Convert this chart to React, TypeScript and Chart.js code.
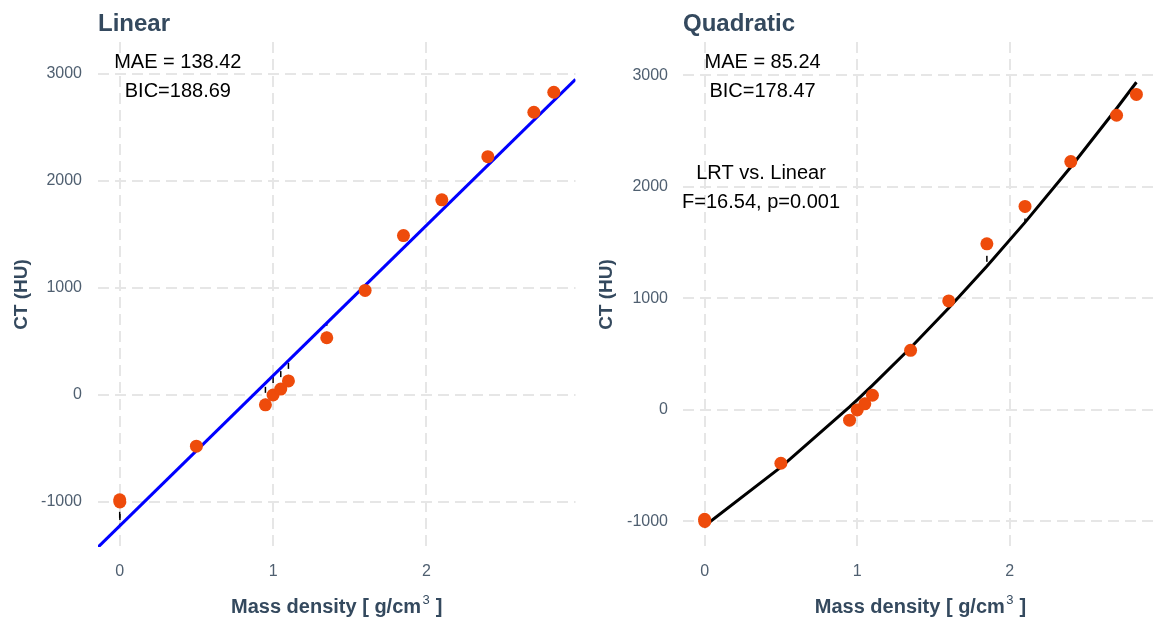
import React, { useEffect, useRef } from "react";
import { Chart, registerables } from "chart.js";

Chart.register(...registerables);

// Measured phantom inserts: mass density (g/cm³) and CT number (HU)
const density = [0, 0.0012, 0.5, 0.95, 1.0, 1.05, 1.1, 1.35, 1.6, 1.85, 2.1, 2.4, 2.7, 2.83];
const ctNumber = [-980, -1000, -478, -92, 0, 55, 132, 535, 978, 1490, 1825, 2228, 2643, 2830];

const xTicks = [0, 1, 2];
const yTicks = [-1000, 0, 1000, 2000, 3000];

const X_MIN = -0.1415;
const X_MAX = 2.9715;

const linearNotes = ["MAE = 138.42", "BIC=188.69"];
const quadraticNotes = ["MAE = 85.24", "BIC=178.47"];
const lrtNotes = ["LRT vs. Linear", "F=16.54, p=0.001"];

const FONT = '"Liberation Sans", Arial, Helvetica, sans-serif';
const TITLE_COLOR = "#34495e";
const TICK_COLOR = "#4f5f70";
const GRID_COLOR = "#e6e6e6";
const POINT_COLOR = "#ee4b0b";

// Ordinary least-squares polynomial fit, returns coefficients c0..cN
function polyFit(xs: number[], ys: number[], degree: number): number[] {
  const n = degree + 1;
  const A: number[][] = Array.from({ length: n }, () => new Array(n).fill(0));
  const b: number[] = new Array(n).fill(0);
  xs.forEach((x, k) => {
    for (let i = 0; i < n; i++) {
      b[i] += ys[k] * Math.pow(x, i);
      for (let j = 0; j < n; j++) A[i][j] += Math.pow(x, i + j);
    }
  });
  for (let c = 0; c < n; c++) {
    let p = c;
    for (let r = c + 1; r < n; r++) if (Math.abs(A[r][c]) > Math.abs(A[p][c])) p = r;
    [A[c], A[p]] = [A[p], A[c]];
    [b[c], b[p]] = [b[p], b[c]];
    for (let r = c + 1; r < n; r++) {
      const f = A[r][c] / A[c][c];
      for (let j = c; j < n; j++) A[r][j] -= f * A[c][j];
      b[r] -= f * b[c];
    }
  }
  const coef = new Array(n).fill(0);
  for (let i = n - 1; i >= 0; i--) {
    let s = b[i];
    for (let j = i + 1; j < n; j++) s -= A[i][j] * coef[j];
    coef[i] = s / A[i][i];
  }
  return coef;
}

const evalPoly = (coef: number[], x: number) =>
  coef.reduce((acc, c, i) => acc + c * Math.pow(x, i), 0);

type Note = { lines: string[]; x: number; y: number[] };

type PanelSpec = {
  title: string;
  degree: number;
  lineColor: string;
  fullRange: boolean;
  yMin: number;
  yMax: number;
  yAxisWidth: number;
  yTickPad: number;
  rightPad: number;
  yTitleX: number;
  notes: Note[];
};

const panels: PanelSpec[] = [
  {
    title: "Linear",
    degree: 1,
    lineColor: "#0000ff",
    fullRange: true,
    yMin: -1421,
    yMax: 3300,
    yAxisWidth: 98,
    yTickPad: 16,
    rightPad: 6,
    yTitleX: 22,
    notes: [{ lines: linearNotes, x: 0.379, y: [3060, 2789] }],
  },
  {
    title: "Quadratic",
    degree: 2,
    lineColor: "#000000",
    fullRange: false,
    yMin: -1229,
    yMax: 3300,
    yAxisWidth: 101,
    yTickPad: 15,
    rightPad: 7,
    yTitleX: 25,
    notes: [
      { lines: quadraticNotes, x: 0.38, y: [3070, 2809] },
      { lines: lrtNotes, x: 0.37, y: [2069, 1809] },
    ],
  },
];

function makeConfig(spec: PanelSpec): any {
  const coef = polyFit(density, ctNumber, spec.degree);
  const fitted = density.map((x) => evalPoly(coef, x));
  const points = density.map((x, i) => ({ x, y: ctNumber[i] }));
  const fitXs = spec.fullRange ? [X_MIN, X_MAX] : density;
  const fitLine = fitXs.map((x) => ({ x, y: evalPoly(coef, x) }));

  const decor = {
    id: "panelDecor",
    beforeDatasetsDraw(chart: any) {
      const { ctx, chartArea, scales } = chart;
      const xs = scales.x;
      const ys = scales.y;
      ctx.save();
      ctx.beginPath();
      ctx.rect(chartArea.left, chartArea.top, chartArea.right - chartArea.left, chartArea.bottom - chartArea.top);
      ctx.clip();
      // dashed residual segments from each point to the fitted value
      ctx.strokeStyle = "#000000";
      ctx.lineWidth = 1.5;
      ctx.setLineDash([6, 6]);
      density.forEach((x, i) => {
        const px = xs.getPixelForValue(x);
        ctx.beginPath();
        ctx.moveTo(px, ys.getPixelForValue(ctNumber[i]));
        ctx.lineTo(px, ys.getPixelForValue(fitted[i]));
        ctx.stroke();
      });
      ctx.restore();
    },
    afterDraw(chart: any) {
      const { ctx, chartArea, scales } = chart;
      ctx.save();
      // panel title
      ctx.fillStyle = TITLE_COLOR;
      ctx.font = `bold 24px ${FONT}`;
      ctx.textAlign = "left";
      ctx.textBaseline = "alphabetic";
      ctx.fillText(spec.title, chartArea.left, 31);

      // x axis title with superscript
      const cx = (chartArea.left + chartArea.right) / 2;
      const main = "Mass density [ g/cm";
      const sup = "3";
      const tail = " ]";
      ctx.font = `bold 20px ${FONT}`;
      const wMain = ctx.measureText(main).width;
      const wTail = ctx.measureText(tail).width;
      ctx.font = `13px ${FONT}`;
      const wSup = ctx.measureText(sup).width;
      let x0 = cx - (wMain + wSup + 2 + wTail) / 2;
      const base = 613;
      ctx.font = `bold 20px ${FONT}`;
      ctx.fillText(main, x0, base);
      x0 += wMain + 1.5;
      ctx.font = `13px ${FONT}`;
      ctx.fillText(sup, x0, base - 9);
      x0 += wSup + 0.5;
      ctx.font = `bold 20px ${FONT}`;
      ctx.fillText(tail, x0, base);

      // y axis title
      ctx.save();
      ctx.translate(spec.yTitleX, (chartArea.top + chartArea.bottom) / 2);
      ctx.rotate(-Math.PI / 2);
      ctx.textAlign = "center";
      ctx.textBaseline = "middle";
      ctx.font = `bold 19px ${FONT}`;
      ctx.fillText("CT (HU)", 0, 0);
      ctx.restore();

      // fit statistics
      ctx.fillStyle = "#000000";
      ctx.font = `20px ${FONT}`;
      ctx.textAlign = "center";
      ctx.textBaseline = "alphabetic";
      spec.notes.forEach((note) => {
        const px = scales.x.getPixelForValue(note.x);
        note.lines.forEach((line, i) => {
          ctx.fillText(line, px, scales.y.getPixelForValue(note.y[i]));
        });
      });
      ctx.restore();
    },
  };

  const axisCommon = {
    type: "linear",
    grid: { color: GRID_COLOR, lineWidth: 2, drawTicks: false },
    border: { display: false, dash: [11, 6] },
  };

  const tickFont = { family: FONT, size: 16 };
  const plainLabel = (v: number | string) => String(v);

  return {
    type: "scatter",
    data: {
      datasets: [
        {
          type: "scatter",
          data: points,
          pointRadius: 6.5,
          pointBackgroundColor: POINT_COLOR,
          pointBorderWidth: 0,
          order: 0,
        },
        {
          type: "line",
          data: fitLine,
          borderColor: spec.lineColor,
          borderWidth: 3,
          pointRadius: 0,
          fill: false,
          tension: 0,
          order: 1,
        },
      ],
    },
    options: {
      responsive: false,
      animation: false,
      devicePixelRatio: 1,
      events: [],
      layout: { padding: { top: 42, right: spec.rightPad, bottom: 0, left: 0 } },
      plugins: {
        legend: { display: false },
        tooltip: { enabled: false },
        title: { display: false },
      },
      scales: {
        x: {
          ...axisCommon,
          min: X_MIN,
          max: X_MAX,
          afterBuildTicks: (s: any) => {
            s.ticks = xTicks.map((v) => ({ value: v }));
          },
          afterFit: (s: any) => {
            s.height = 73;
          },
          ticks: { color: TICK_COLOR, font: tickFont, padding: 15, callback: plainLabel },
        },
        y: {
          ...axisCommon,
          min: spec.yMin,
          max: spec.yMax,
          afterBuildTicks: (s: any) => {
            s.ticks = yTicks.map((v) => ({ value: v }));
          },
          afterFit: (s: any) => {
            s.width = spec.yAxisWidth;
          },
          ticks: { color: TICK_COLOR, font: tickFont, padding: spec.yTickPad, callback: plainLabel },
        },
      },
    },
    plugins: [decor],
  };
}

function Panel({ spec, left, width }: { spec: PanelSpec; left: number; width: number }) {
  const ref = useRef<HTMLCanvasElement>(null);
  useEffect(() => {
    const chart = new Chart(ref.current as HTMLCanvasElement, makeConfig(spec));
    return () => chart.destroy();
  }, [spec]);
  return (
    <canvas
      ref={ref}
      width={width}
      height={620}
      style={{ position: "absolute", left, top: 0, width, height: 620 }}
    />
  );
}

export default function App() {
  return (
    <div style={{ position: "fixed", left: 0, top: 0, width: 1165, height: 620, background: "#ffffff" }}>
      <Panel spec={panels[0]} left={0} width={582} />
      <Panel spec={panels[1]} left={582} width={583} />
    </div>
  );
}
